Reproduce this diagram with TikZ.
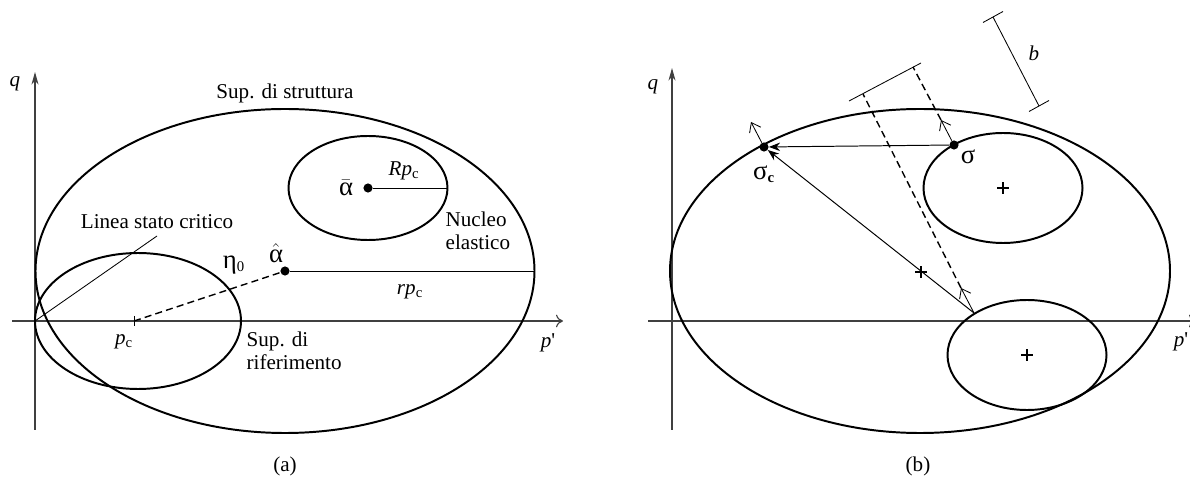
\documentclass[tikz,border=0pt]{standalone}
\usepackage{amsmath}
\usepackage{fontspec}
\setmainfont{Liberation Serif}
\usetikzlibrary{positioning,arrows.meta,calc,shapes.misc}

\newcommand{\grk}[1]{{\fontsize{19}{19}\selectfont #1}}

\begin{document}
\begin{tikzpicture}[
  x=0.025cm, y=-0.025cm,
  font=\fontsize{15}{16}\selectfont,
  >=Stealth,
  surf/.style={draw=black, line width=1.4pt},
  axisln/.style={draw=black!75, line width=0.8pt},
  thinln/.style={draw=black, line width=0.6pt},
  dashln/.style={draw=black, line width=1pt, dash pattern=on 5pt off 3pt},
  normarr/.style={-{Straight Barb[length=6pt,width=9pt]}, draw=black, line width=0.6pt},
  maparr/.style={-{Stealth[length=8pt,width=6pt]}, draw=black, line width=0.7pt},
  ptdot/.style={circle, fill=black, inner sep=0pt, minimum size=6.5pt},
  centremark/.style={cross out, draw=black, line width=1pt, minimum size=5pt, inner sep=0pt, rotate=45},
  lbl/.style={inner sep=1pt}
]
  \useasboundingbox (0,0) rectangle (1190,484);

  % ---- (a) ----
  \coordinate (oA) at (35,321);
  \draw[axisln,-{Stealth[length=9pt,width=5pt]}] (35,430) -- (35,72);
  \draw[axisln,-{To[length=5pt,width=9pt]}] (12,321) -- (563,321);
  \node[lbl] (qlA) at (15,84) {\textit{q}};
  \node[lbl] (plA) at (548,343) {\textit{p}\textquotesingle};

  \coordinate (aHat) at (285,271);
  \coordinate (aBar) at (368,188);
  \coordinate (cRif) at (138,321);
  \coordinate (pc) at (134,321);
  \draw[surf] (aHat) ellipse [x radius=249.5, y radius=162];
  \draw[surf] (cRif) ellipse [x radius=103, y radius=68];
  \draw[surf] (aBar) ellipse [x radius=79.5, y radius=52];

  \node[ptdot] (aHatDot) at (aHat) {};
  \node[ptdot] (aBarDot) at (aBar) {};
  \coordinate (rEnd) at (534.5,271);
  \coordinate (REnd) at (447.5,188);
  \draw[thinln] (aHatDot) -- (rEnd);
  \draw[thinln] (aBarDot) -- (REnd);
  \draw[dashln] (pc) -- (aHatDot);
  \draw[thinln] (pc) ++(0,-5) -- ++(0,10);
  \coordinate (lscEnd) at (157,236);
  \draw[thinln] (oA) -- (lscEnd);

  \node[lbl] (supS) at (285,93) {Sup. di struttura};
  \node[lbl] (lsc) at (157,222) {Linea stato critico};
  \node[lbl] (eta) at (234,265) {\grk{η}\textsubscript{0}};
  \node[lbl] (aHatL) at (276,253) {\grk{$\hat{\text{α}}$}};
  \node[lbl] (aBarL) at (346,188) {\grk{$\bar{\text{α}}$}};
  \node[lbl] (RpcL) at (404,171) {\textit{Rp}\textsubscript{c}};
  \node[lbl, align=left, anchor=west] (nucL) at (444,231) {Nucleo\\elastico};
  \node[lbl] (rpcL) at (410,292) {\textit{rp}\textsubscript{c}};
  \node[lbl] (pcL) at (124,342) {\textit{p}\textsubscript{c}};
  \node[lbl, align=left, anchor=west] (srL) at (245,351) {Sup. di\\riferimento};
  \node[lbl] (capA) at (285,466) {(a)};

  % ---- (b) ----
  \draw[axisln,-{Stealth[length=9pt,width=5pt]}] (672,430) -- (672,68);
  \draw[axisln,-{To[length=5pt,width=9pt]}] (648,321) -- (1196,321);
  \node[lbl] (qlB) at (653,87) {\textit{q}};
  \node[lbl] (plB) at (1181,342) {\textit{p}\textquotesingle};

  \coordinate (cB) at (920,271);
  \coordinate (cU) at (1003,188);
  \coordinate (cL) at (1027,355);
  \draw[surf] (cB) ellipse [x radius=250, y radius=162];
  \draw[surf] (cU) ellipse [x radius=79.5, y radius=55];
  \draw[surf] (cL) ellipse [x radius=79.5, y radius=55];
  \node[centremark] (xB) at (921,272) {};
  \node[centremark] (xU) at (cU) {};
  \node[centremark] (xL) at (cL) {};

  \node[ptdot] (sig) at (954,145) {};
  \node[ptdot] (sigc) at (764,147) {};
  \coordinate (sigL) at (974,313);
  \draw[maparr] (sig) -- (sigc);
  \draw[maparr] (sigL) -- (sigc);

  \coordinate (nC) at (751,122);
  \coordinate (nS) at (941,120);
  \coordinate (nL) at (961,288);
  \draw[normarr] (sigc) -- (nC);
  \draw[normarr] (sig) -- (nS);
  \draw[normarr] (sigL) -- (nL);

  \coordinate (d1) at (863,94);
  \coordinate (d2) at (913,67);
  \draw[dashln] (nL) -- (d1);
  \draw[dashln] (nS) -- (d2);
  \coordinate (bar1) at (849,101);
  \coordinate (bar2) at (921,63);
  \draw[thinln] (bar1) -- (bar2);

  \coordinate (bTop) at (993,17);
  \coordinate (bBot) at (1039,106);
  \draw[thinln] (bTop) -- (bBot);
  \draw[thinln] ($(bTop)+(-10,5.5)$) -- ($(bTop)+(10,-5.5)$);
  \draw[thinln] ($(bBot)+(-10,5.5)$) -- ($(bBot)+(10,-5.5)$);
  \node[lbl] (bL) at (1034,53) {\textit{b}};

  \node[lbl] (sigLbl) at (968,157) {\grk{σ}};
  \node[lbl] (sigcLbl) at (764,174) {\grk{σ}\textsubscript{\textbf{c}}};
  \node[lbl] (capB) at (918,466) {(b)};
\end{tikzpicture}
\end{document}
